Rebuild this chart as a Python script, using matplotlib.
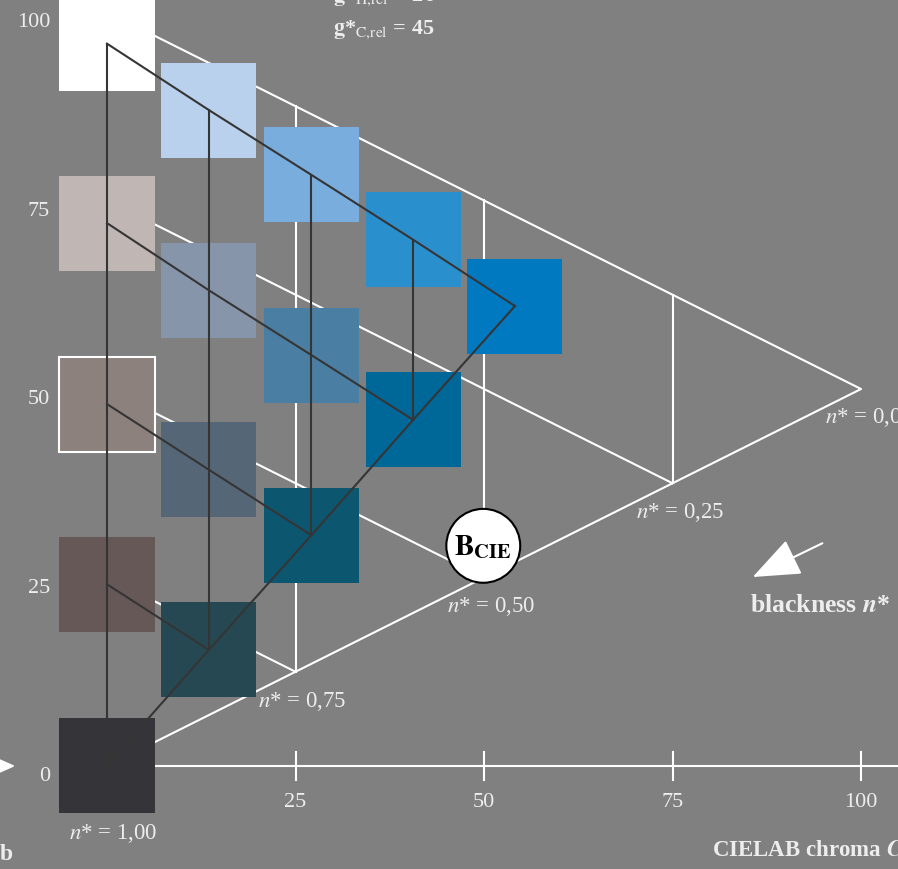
import matplotlib
matplotlib.use("Agg")
import matplotlib.pyplot as plt
from matplotlib.patches import Rectangle, Circle, Polygon

plt.rcParams['font.family'] = ['Liberation Serif', 'DejaVu Serif']
plt.rcParams['mathtext.fontset'] = 'stix'

# ---------------------------------------------------------------
# DATA
# ---------------------------------------------------------------
# sample chroma / lightness (CIELAB) and colours, column by column
chroma = [0, 0, 0, 0, 0,
          13.5, 13.5, 13.5, 13.5,
          27.1, 27.1, 27.1,
          40.6, 40.6,
          54.1]
lightness = [95.8, 72.0, 48.0, 24.1, 0.1,
             87.0, 63.1, 39.3, 15.4,
             78.4, 54.5, 30.6,
             69.8, 45.9,
             61.0]
colors = ['#ffffff', '#c0b6b3', '#8d817d', '#655856', '#353438',
          '#b9d1ec', '#8795aa', '#556676', '#264852',
          '#78addd', '#4b7ea3', '#0d5670',
          '#2a8fcd', '#006899',
          '#0079c1']
outlined = [2]  # the mid grey sample has a white frame

# index groups of the dark grid lines
const_n = [[0, 5, 9, 12, 14], [1, 6, 10, 13], [2, 7, 11], [3, 8]]
const_c = [[0, 1, 2, 3, 4], [5, 6, 7, 8], [9, 10, 11], [12, 13]]
const_w = [[4, 8, 11, 13, 14]]

# ideal triangle: white, black, maximum colour
tri_white = (0, 100)
tri_black = (0, 0)
tri_color = (100, 50)
n_levels = [0.25, 0.50, 0.75]
n_labels = ['0,00', '0,25', '0,50', '0,75', '1,00']

x_ticks = [25, 50, 75, 100]
y_ticks = [0, 25, 50, 75, 100]

BCIE = (49.9, 29.2)

bg = '#808080'
fg = '#ededed'
dark = '#353535'

# ---------------------------------------------------------------
# PLOT
# ---------------------------------------------------------------
fig = plt.figure(figsize=(8.98, 8.69), dpi=100, facecolor=bg)
ax = fig.add_axes([0, 0, 1, 1])
ax.set_facecolor(bg)
ax.set_xlim(-14.19, 104.9)
ax.set_ylim(-13.66, 101.59)
ax.axis('off')

# white triangle
ax.plot([tri_white[0], tri_color[0], tri_black[0]],
        [tri_white[1], tri_color[1], tri_black[1]], color='white', lw=1.5, zorder=1)
for n in n_levels:
    # constant n*: from grey axis towards the black-colour edge
    y0 = tri_white[1] * (1 - n) + tri_black[1] * n
    c_end = tri_color[0] * (1 - n)
    y_end = y0 + (tri_color[1] - tri_white[1]) * (1 - n)
    ax.plot([0, c_end], [y0, y_end], color='white', lw=1.5, zorder=1)
    # constant chroma
    c = tri_color[0] * n
    ax.plot([c, c], [tri_color[1] * n, tri_white[1] + (tri_color[1] - tri_white[1]) * n],
            color='white', lw=1.5, zorder=1)

# chroma axis
ax.plot([0, 105], [0, 0], color='white', lw=1.5, zorder=1)
for t in x_ticks:
    ax.plot([t, t], [-1.85, 1.85], color='white', lw=1.5, zorder=1)
    ax.text(t, -4.9, str(t), color=fg, fontsize=16, ha='center', va='center')
for t in y_ticks:
    ax.text(-7.56, t - 1.4, str(t), color=fg, fontsize=16, ha='right', va='center')

ax.add_patch(Polygon([(-14.2, 0.8), (-12.4, 0), (-14.2, -0.8)], closed=True,
                     color='white', zorder=1))

# samples
half = 6.3
for i, (c, l, col) in enumerate(zip(chroma, lightness, colors)):
    ec = 'white' if i in outlined else 'none'
    ax.add_patch(Rectangle((c - half, l - half), 2 * half, 2 * half,
                           facecolor=col, edgecolor=ec, lw=1.5, zorder=2))

# dark grid
for group in const_n + const_c + const_w:
    ax.plot([chroma[i] for i in group], [lightness[i] for i in group],
            color=dark, lw=1.5, zorder=3)

# B_CIE marker
ax.add_patch(Circle(BCIE, 4.9, facecolor='white', edgecolor='black', lw=1.5, zorder=4))
ax.text(BCIE[0], BCIE[1] - 0.2, r'$\mathbf{B}_{\mathbf{CIE}}$', fontsize=21,
        ha='center', va='center', color='black', zorder=5)

# n* labels
label_pos = [(95.2, 46.2), (70.2, 33.6), (45.1, 21.1), (20.0, 8.5), (-5.0, -8.9)]
for (x, y), s in zip(label_pos, n_labels):
    ax.text(x, y, r'$n$* = ' + s, color=fg, fontsize=16.5, ha='left', va='center')

# blackness arrow
ax.annotate('', xy=(85.3, 24.9), xytext=(95.2, 29.7),
            arrowprops=dict(arrowstyle='-|>,head_length=1.5,head_width=0.6',
                            color='white', lw=1.5, mutation_scale=20))
ax.text(85.3, 21.35, r'blackness $\boldsymbol{n}$*', color=fg, fontsize=18.5,
        fontweight='bold', ha='left', va='center')

# headings
ax.text(30.0, 102.0, r'$\mathbf{g}$*$_{\mathrm{H{,}rel}}$ = 26', color=fg, fontsize=16,
        fontweight='bold', ha='left', va='center')
ax.text(30.0, 97.6, r'$\mathbf{g}$*$_{\mathrm{C{,}rel}}$ = 45', color=fg, fontsize=16,
        fontweight='bold', ha='left', va='center')

ax.text(80.2, -11.1, r'CIELAB chroma $\boldsymbol{C}$*$_{\mathbf{ab}}$', color=fg,
        fontsize=16.5, fontweight='bold', ha='left', va='center')
ax.text(-14.2, -11.8, 'b', color=fg, fontsize=17, fontweight='bold', ha='left', va='center')

plt.savefig('out.png', dpi=100, facecolor=bg)
plt.close()
